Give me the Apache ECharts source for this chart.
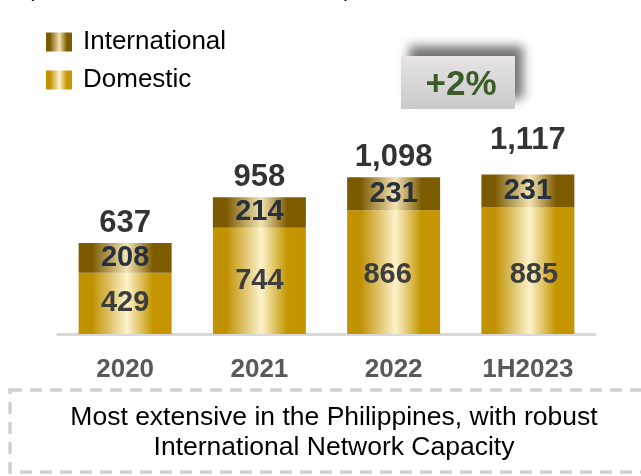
<!DOCTYPE html>
<html>
<head>
<meta charset="utf-8">
<script src="https://cdn.jsdelivr.net/npm/echarts@6/dist/echarts.min.js"></script>
<style>
  html, body { margin: 0; padding: 0; background: #fff; }
  #chart { width: 641px; height: 476px; }
</style>
</head>
<body>
<div id="chart"></div>
<script>
// Network capacity by year, split into domestic and international
const categories = ['2020', '2021', '2022', '1H2023'];
const domestic = [429, 744, 866, 885];
const international = [208, 214, 231, 231];
const totals = [637, 958, 1098, 1117];
const growthLabel = '+2%';
const noteLines = ['Most extensive in the Philippines, with robust', 'International Network Capacity'];

const FONT = '"Liberation Sans", Arial, sans-serif';

function barGradient(edge, dark, light, dark2) {
  return new echarts.graphic.LinearGradient(0, 0, 1, 0, [
    { offset: 0, color: edge },
    { offset: 0.14, color: dark },
    { offset: 0.52, color: light },
    { offset: 0.8, color: dark2 },
    { offset: 1, color: edge }
  ]);
}
const domesticFill = barGradient('#c49500', '#bf9000', '#fdf2cc', '#c49600');
const internationalFill = barGradient('#7d5c00', '#7a5900', '#f3e3b4', '#7d5c00');

// small nudges for individual value labels
const domesticLabelShift = { 2: [-6, 3], 3: [6, 4] };
const totalLabelShift = { 3: [0, -14] };

const chart = echarts.init(document.getElementById('chart'), null, { renderer: 'canvas' });

chart.setOption({
  animation: false,
  backgroundColor: '#ffffff',
  textStyle: { fontFamily: FONT },
  grid: { left: 58, right: 46, top: 134, bottom: 142 },
  legend: {
    orient: 'vertical',
    left: 41,
    top: 24,
    itemWidth: 26,
    itemHeight: 19,
    itemGap: 12,
    icon: 'rect',
    selectedMode: false,
    data: ['International', 'Domestic'],
    textStyle: { fontSize: 26, color: '#000', fontFamily: FONT, padding: [0, 0, 0, 6] }
  },
  xAxis: {
    type: 'category',
    data: categories,
    axisLine: { lineStyle: { color: '#d9d9d9', width: 3 } },
    axisTick: { show: false },
    axisLabel: { fontSize: 26, fontWeight: 'bold', color: '#595959', margin: 23, fontFamily: FONT }
  },
  yAxis: {
    type: 'value',
    min: 0,
    max: 1400,
    show: false,
    splitLine: { show: false }
  },
  series: [
    {
      name: 'Domestic',
      type: 'bar',
      stack: 'capacity',
      barWidth: 93,
      itemStyle: { color: domesticFill },
      label: {
        show: true,
        position: 'inside',
        fontSize: 29,
        fontWeight: 'bold',
        color: '#3d3d3d',
        fontFamily: FONT
      },
      data: domestic.map((v, i) => domesticLabelShift[i]
        ? { value: v, label: { offset: domesticLabelShift[i] } }
        : v)
    },
    {
      name: 'International',
      type: 'bar',
      stack: 'capacity',
      barWidth: 93,
      itemStyle: { color: internationalFill },
      label: {
        show: true,
        position: 'inside',
        fontSize: 29,
        fontWeight: 'bold',
        color: '#27303d',
        fontFamily: FONT
      },
      data: international
    },
    {
      name: 'Total',
      type: 'scatter',
      symbolSize: 0,
      itemStyle: { color: 'rgba(0,0,0,0)' },
      label: {
        show: true,
        position: 'top',
        distance: 4,
        fontSize: 31,
        fontWeight: 'bold',
        color: '#000',
        fontFamily: FONT,
        formatter: p => p.value.toLocaleString('en-US')
      },
      data: totals.map((v, i) => totalLabelShift[i]
        ? { value: v, label: { offset: totalLabelShift[i] } }
        : v)
    }
  ],
  graphic: [
    // clipped heading brackets at the very top
    { type: 'text', left: 27, top: -21, style: { text: '(', fill: '#000', font: '22px ' + FONT } },
    { type: 'text', left: 344, top: -21, style: { text: ')', fill: '#000', font: '22px ' + FONT } },
    // growth badge
    {
      type: 'group',
      left: 401,
      top: 56,
      children: [
        {
          type: 'rect',
          shape: { x: 0, y: 0, width: 114, height: 53 },
          style: {
            fill: new echarts.graphic.LinearGradient(0, 0, 0, 1, [
              { offset: 0, color: '#e6e4e4' },
              { offset: 1, color: '#cbc9c9' }
            ]),
            shadowColor: 'rgba(0,0,0,0.55)',
            shadowBlur: 10,
            shadowOffsetX: 8,
            shadowOffsetY: -10
          }
        },
        {
          type: 'text',
          x: 60,
          y: 29,
          style: {
            text: growthLabel,
            font: 'bold 35px ' + FONT,
            fill: '#3b5c28',
            textAlign: 'center',
            textVerticalAlign: 'middle'
          }
        }
      ]
    },
    // note box
    {
      type: 'rect',
      shape: { x: 10, y: 390, width: 700, height: 82 },
      style: { fill: 'none', stroke: '#d0d0d0', lineWidth: 3.5, lineDash: [12, 8] }
    },
    {
      type: 'text',
      x: 334,
      y: 433,
      style: {
        text: noteLines.join('\n'),
        font: '26.5px ' + FONT,
        fill: '#000',
        textAlign: 'center',
        textVerticalAlign: 'middle',
        lineHeight: 30
      }
    }
  ]
});
</script>
</body>
</html>
